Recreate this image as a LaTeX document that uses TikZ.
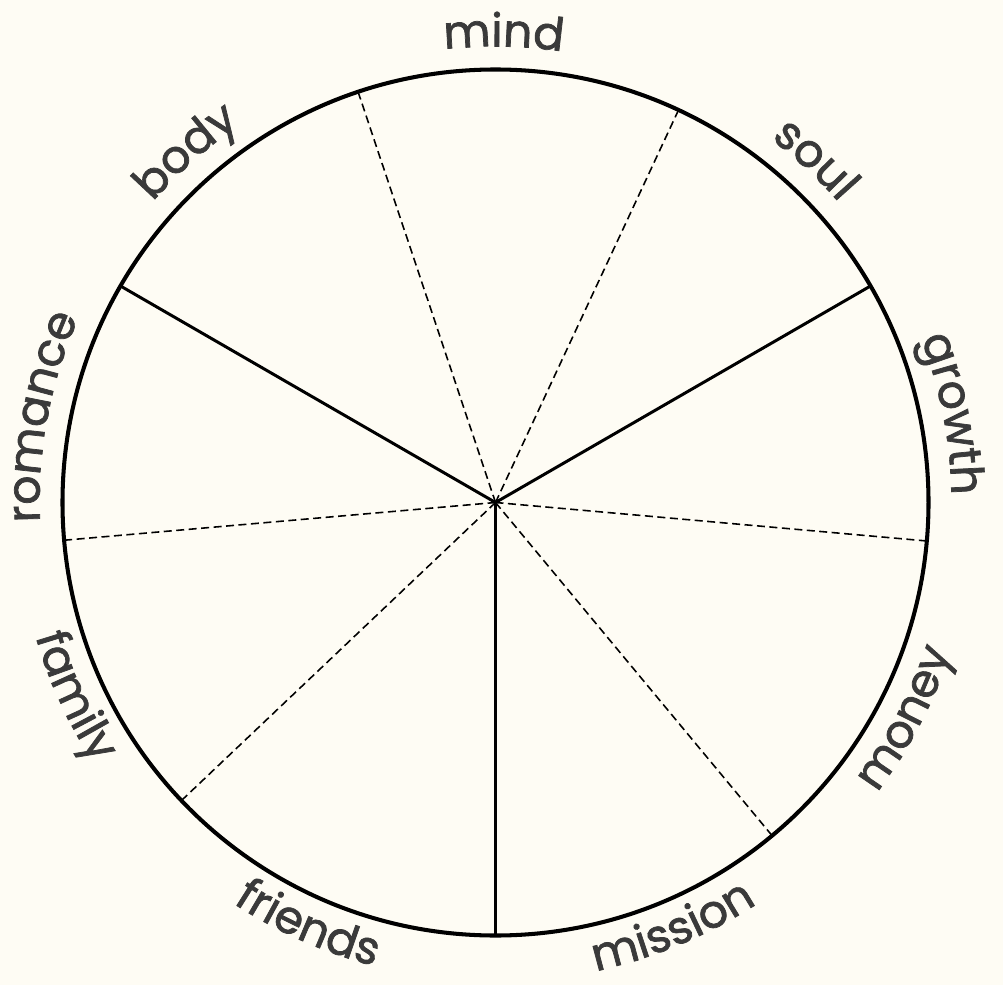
\documentclass[tikz,border=0pt]{standalone}
\usepackage{fontspec}
\usepackage{tikz}
\usetikzlibrary{decorations.text}
\newfontfamily\labelfont{Poppins}[FakeBold=1.6]
\definecolor{bgcream}{HTML}{FEFCF4}
\definecolor{inkgray}{HTML}{3A3A3A}

\begin{document}
\begin{tikzpicture}[
        rim/.style={line width=1.15pt},
        spoke/.style={line width=0.85pt},
        divider/.style={line width=0.45pt, dash pattern=on 0.8mm off 0.45mm},
        toplabel/.style={decorate, decoration={text along path, text align=center,
            text color=inkgray, text={|\labelfont\fontsize{13}{15}\selectfont|#1}}},
        botlabel/.style={toplabel=#1}
    ]
        % Page
        \fill[bgcream] (-4.955,-4.825) rectangle (5.075,5.025);
        \useasboundingbox (-4.955,-4.825) rectangle (5.075,5.025);

        % Centre and rim points
        \coordinate (O) at (0,0);
        \coordinate (s30) at (30:4.33);
        \coordinate (s150) at (150:4.33);
        \coordinate (s270) at (270:4.33);
        \coordinate (d65) at (65:4.33);
        \coordinate (d108) at (108.5:4.33);
        \coordinate (d185) at (185:4.33);
        \coordinate (d223) at (223.5:4.33);
        \coordinate (d310) at (309.7:4.33);
        \coordinate (d355) at (354.9:4.33);

        % Dividers inside each third
        \draw[divider] (O) -- (d65);
        \draw[divider] (O) -- (d108);
        \draw[divider] (O) -- (d185);
        \draw[divider] (O) -- (d223);
        \draw[divider] (O) -- (d310);
        \draw[divider] (O) -- (d355);

        % Thirds
        \draw[spoke] (O) -- (s30);
        \draw[spoke] (O) -- (s150);
        \draw[spoke] (O) -- (s270);

        % Rim
        \draw[rim] (O) circle (4.33);

        % Labels, upper half (read clockwise)
        \path[toplabel=mind] (109:4.56) arc[start angle=109, end angle=69, radius=4.56];
        \path[toplabel=soul] (67:4.56) arc[start angle=67, end angle=27, radius=4.56];
        \path[toplabel=growth] (31:4.56) arc[start angle=31, end angle=-9, radius=4.56];
        \path[toplabel=body] (151.4:4.56) arc[start angle=151.4, end angle=111.4, radius=4.56];
        \path[toplabel=romance] (189.3:4.56) arc[start angle=189.3, end angle=149.3, radius=4.56];

        % Labels, lower half (read anticlockwise)
        \path[botlabel=family] (184.7:4.79) arc[start angle=184.7, end angle=224.7, radius=4.79];
        \path[botlabel=friends] (226.1:4.79) arc[start angle=226.1, end angle=266.1, radius=4.79];
        \path[botlabel=mission] (272.6:4.79) arc[start angle=272.6, end angle=312.6, radius=4.79];
        \path[botlabel=money] (312.3:4.79) arc[start angle=312.3, end angle=352.3, radius=4.79];
    \end{tikzpicture}
\end{document}
